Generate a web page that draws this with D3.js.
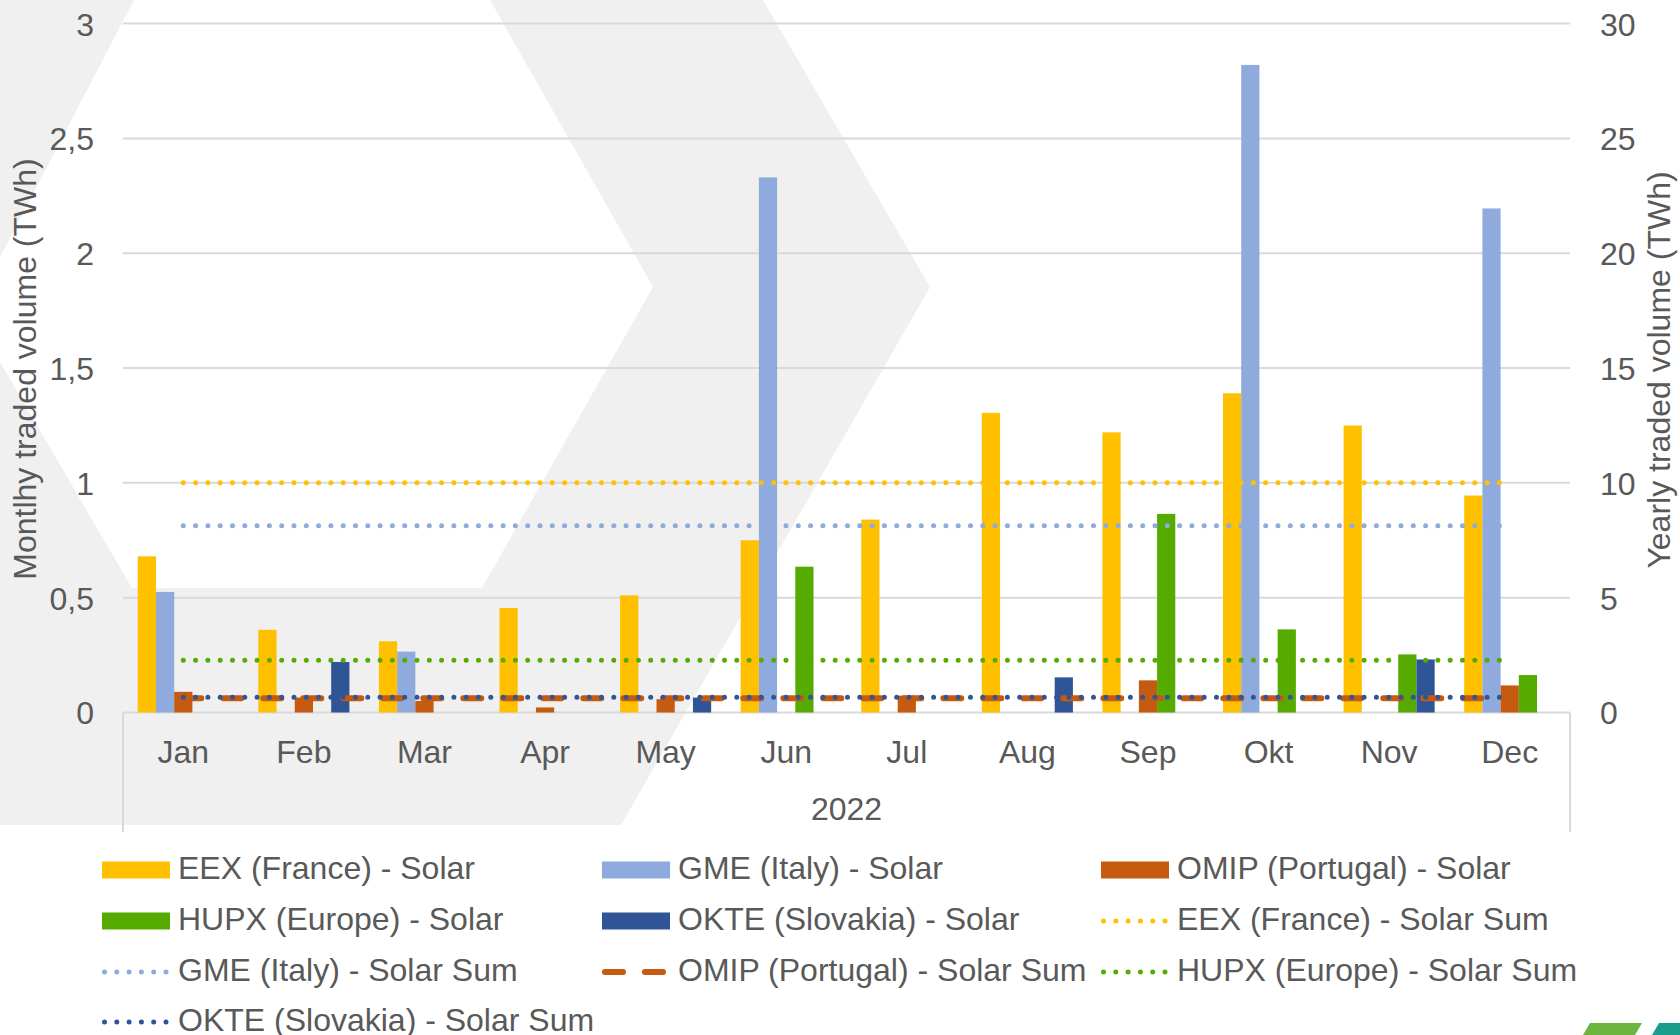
<!DOCTYPE html>
<html>
<head>
<meta charset="utf-8">
<title>Solar traded volume 2022</title>
<script src="https://d3js.org/d3.v7.min.js"></script>
<style>
  body { margin: 0; background: #fff; }
  svg { display: block; font-family: "Liberation Sans", Arial, sans-serif; }
  .tick text, .lbl { fill: #595959; font-size: 32px; }
</style>
</head>
<body>
<svg id="chart" width="1680" height="1035"></svg>
<script>
// categories
const months = ['Jan', 'Feb', 'Mar', 'Apr', 'May', 'Jun', 'Jul', 'Aug', 'Sep', 'Okt', 'Nov', 'Dec'];
const year = '2022';

// monthly traded volume (TWh)
const eexSolar  = [0.68, 0.36, 0.31, 0.455, 0.51, 0.75, 0.84, 1.305, 1.22, 1.39, 1.25, 0.945];
const gmeSolar  = [0.525, 0, 0.265, 0, 0, 2.33, 0, 0, 0, 2.82, 0, 2.195];
const omipSolar = [0.09, 0.065, 0.05, 0.022, 0.058, 0, 0.073, 0, 0.14, 0, 0, 0.118];
const hupxSolar = [0, 0, 0, 0, 0, 0.635, 0, 0, 0.865, 0.362, 0.253, 0.163];
const okteSolar = [0, 0.22, 0, 0, 0.065, 0, 0, 0.153, 0, 0, 0.231, 0];

// yearly sums (TWh, right axis)
const eexSum  = [10.0];
const gmeSum  = [8.13];
const omipSum = [0.62];
const hupxSum = [2.28];
const okteSum = [0.66];

const leftTicks  = [0, 0.5, 1, 1.5, 2, 2.5, 3];
const rightTicks = [0, 5, 10, 15, 20, 25, 30];

const barSeries = [
  { name: 'EEX (France) - Solar',    values: eexSolar,  color: '#FFC000' },
  { name: 'GME (Italy) - Solar',     values: gmeSolar,  color: '#8FAADC' },
  { name: 'OMIP (Portugal) - Solar', values: omipSolar, color: '#C55A11' },
  { name: 'HUPX (Europe) - Solar',   values: hupxSolar, color: '#55AB00' },
  { name: 'OKTE (Slovakia) - Solar', values: okteSolar, color: '#2F5597' }
];
const sumSeries = [
  { name: 'EEX (France) - Solar Sum',    value: eexSum[0],  color: '#FFC000', dash: 'dot' },
  { name: 'GME (Italy) - Solar Sum',     value: gmeSum[0],  color: '#8FAADC', dash: 'dot' },
  { name: 'OMIP (Portugal) - Solar Sum', value: omipSum[0], color: '#C55A11', dash: 'dash' },
  { name: 'HUPX (Europe) - Solar Sum',   value: hupxSum[0], color: '#55AB00', dash: 'dot' },
  { name: 'OKTE (Slovakia) - Solar Sum', value: okteSum[0], color: '#2F5597', dash: 'dot' }
];

const svg = d3.select('#chart');
const plot = { left: 123, right: 1570, top: 23.6, bottom: 712.5 };
const textShift = 3;

// background chevrons
const grey = 'M0,0 L763,0 L930,287 L621,825 L0,825 Z ' +
             'M134,0 L0,257 L0,362 L132,588 L482,588 L653,287 L490,0 Z';
svg.append('path')
  .attr('d', grey)
  .attr('fill', '#f0f0f0')
  .attr('fill-rule', 'evenodd');

const x0 = d3.scaleBand().domain(months).range([plot.left, plot.right]);
const x1 = d3.scaleBand().domain(barSeries.map(s => s.name))
  .range([0, x0.bandwidth()]).paddingOuter(0.81);
const yL = d3.scaleLinear().domain([0, 3]).range([plot.bottom, plot.top]);
const yR = d3.scaleLinear().domain([0, 30]).range([plot.bottom, plot.top]);

const comma = d3.formatLocale({ decimal: ',', thousands: '.', grouping: [3], currency: ['', ''] }).format('~g');

// gridlines
svg.append('g')
  .selectAll('line')
  .data(leftTicks)
  .join('line')
    .attr('x1', plot.left).attr('x2', plot.right)
    .attr('y1', d => yL(d)).attr('y2', d => yL(d))
    .attr('stroke', '#d9d9d9')
    .attr('stroke-width', 2);

// category axis box
svg.append('g')
  .selectAll('line')
  .data([plot.left, plot.right])
  .join('line')
    .attr('x1', d => d).attr('x2', d => d)
    .attr('y1', plot.bottom).attr('y2', 832)
    .attr('stroke', '#d9d9d9')
    .attr('stroke-width', 2);

// axes
const axL = svg.append('g')
  .attr('transform', 'translate(' + (plot.left - 29) + ',0)')
  .call(d3.axisLeft(yL).tickValues(leftTicks).tickFormat(comma).tickSize(0).tickPadding(0));
const axR = svg.append('g')
  .attr('transform', 'translate(' + (plot.right + 30) + ',0)')
  .call(d3.axisRight(yR).tickValues(rightTicks).tickSize(0).tickPadding(0));
const axX = svg.append('g')
  .attr('transform', 'translate(0,' + plot.bottom + ')')
  .call(d3.axisBottom(x0).tickSize(0).tickPadding(0));
[axL, axR, axX].forEach(a => {
  a.select('.domain').remove();
  a.selectAll('text').attr('font-family', null).attr('font-size', null);
});
axX.selectAll('text').attr('dy', null).attr('y', 39 + textShift).attr('dominant-baseline', 'middle');
axL.selectAll('text').attr('dy', null).attr('y', textShift).attr('dominant-baseline', 'middle');
axR.selectAll('text').attr('dy', null).attr('y', textShift).attr('dominant-baseline', 'middle');

svg.append('text').attr('class', 'lbl')
  .attr('x', (plot.left + plot.right) / 2).attr('y', 809 + textShift)
  .attr('text-anchor', 'middle').attr('dominant-baseline', 'middle')
  .text(year);

svg.append('text').attr('class', 'lbl')
  .attr('transform', 'translate(28,369) rotate(-90)')
  .attr('text-anchor', 'middle').attr('dominant-baseline', 'middle')
  .text('Montlhy traded volume (TWh)');
svg.append('text').attr('class', 'lbl')
  .attr('transform', 'translate(1662,370) rotate(-90)')
  .attr('text-anchor', 'middle').attr('dominant-baseline', 'middle')
  .text('Yearly traded volume (TWh)');

// bars
const groups = svg.append('g')
  .selectAll('g')
  .data(barSeries)
  .join('g')
    .attr('fill', d => d.color);
groups.selectAll('rect')
  .data(s => s.values.map((v, i) => ({ s: s.name, m: months[i], v: v })))
  .join('rect')
    .attr('x', d => x0(d.m) + x1(d.s))
    .attr('width', x1.bandwidth())
    .attr('y', d => yL(d.v))
    .attr('height', d => plot.bottom - yL(d.v));

// sum lines
function dashStyle(sel, kind) {
  if (kind === 'dot') {
    sel.attr('stroke-width', 5).attr('stroke-dasharray', '0 12.3').attr('stroke-linecap', 'round');
  } else {
    sel.attr('stroke-width', 6).attr('stroke-dasharray', '18 22').attr('stroke-linecap', 'round');
  }
}
const line = d3.line().x(d => x0(d) + x0.bandwidth() / 2);
sumSeries.forEach(s => {
  const p = svg.append('path')
    .attr('d', line.y(() => yR(s.value))(months))
    .attr('fill', 'none')
    .attr('stroke', s.color);
  dashStyle(p, s.dash);
});

// legend
const legendItems = barSeries.map(s => ({ name: s.name, color: s.color, kind: 'bar' }))
  .concat(sumSeries.map(s => ({ name: s.name, color: s.color, kind: s.dash })));
const colX = [102, 602, 1101];
const rowY = [870, 921, 972, 1022];
const leg = svg.append('g')
  .selectAll('g')
  .data(legendItems)
  .join('g')
    .attr('transform', (d, i) => 'translate(' + colX[i % 3] + ',' + rowY[Math.floor(i / 3)] + ')');
leg.each(function (d) {
  const g = d3.select(this);
  if (d.kind === 'bar') {
    g.append('rect').attr('x', 0).attr('y', -8.5).attr('width', 68).attr('height', 17).attr('fill', d.color);
  } else {
    const l = g.append('line')
      .attr('x1', d.kind === 'dot' ? 2.5 : 3).attr('x2', 68)
      .attr('y1', 0).attr('y2', 0)
      .attr('stroke', d.color);
    dashStyle(l, d.kind);
  }
  g.append('text').attr('class', 'lbl')
    .attr('x', 76).attr('y', 1)
    .attr('dominant-baseline', 'middle')
    .text(d.name);
});

// corner logo
svg.append('path').attr('d', 'M1583,1035 L1590,1023 L1642,1023 L1635,1035 Z').attr('fill', '#6CB33F');
svg.append('path').attr('d', 'M1652,1035 L1659,1023 L1680,1023 L1680,1035 Z').attr('fill', '#1A9C8C');
</script>
</body>
</html>
